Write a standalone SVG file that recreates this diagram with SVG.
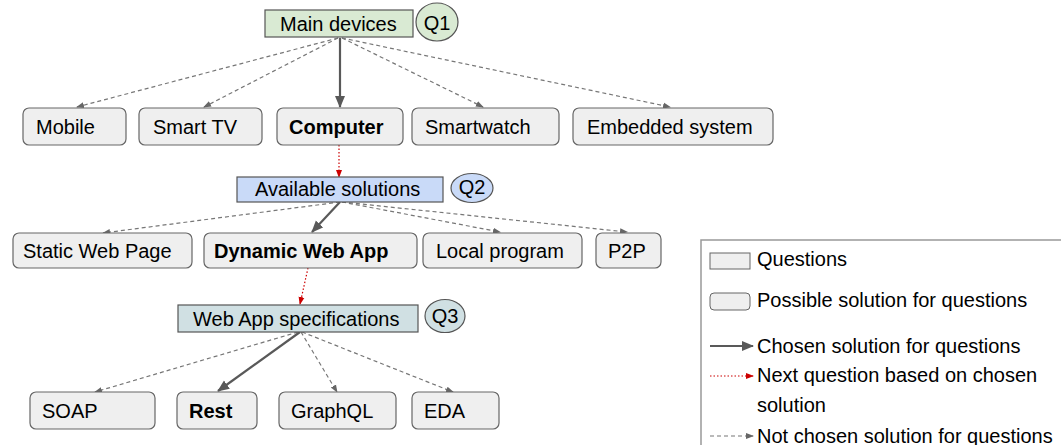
<svg xmlns="http://www.w3.org/2000/svg" width="1061" height="445" viewBox="0 0 1061 445">
<style>
text{font-family:"Liberation Sans",Arial,sans-serif;font-size:20px;fill:#000}
.b{font-weight:bold}
.node{fill:#efefef;stroke:#666;stroke-width:1.2}
.q{stroke:#555;stroke-width:1.2}
.dash{stroke:#777;stroke-width:1.2;stroke-dasharray:4 3;fill:none}
.solid{stroke:#595959;stroke-width:2.2;fill:none}
.red{stroke:#cc0000;stroke-width:1.2;stroke-dasharray:1.5 2;fill:none}
</style>
<defs>
<marker id="ad" markerWidth="8" markerHeight="8" refX="7" refY="4" orient="auto" markerUnits="userSpaceOnUse"><path d="M0,1 L8,4 L0,7 Z" fill="#666"/></marker>
<marker id="as" markerWidth="12" markerHeight="12" refX="11" refY="6" orient="auto" markerUnits="userSpaceOnUse"><path d="M0,1 L12,6 L0,11 Z" fill="#595959"/></marker>
<marker id="ar" markerWidth="8" markerHeight="8" refX="7" refY="4" orient="auto" markerUnits="userSpaceOnUse"><path d="M0,1 L8,4 L0,7 Z" fill="#cc0000"/></marker>
</defs>
<g id="connectors">
<line class="dash" x1="338" y1="38" x2="77" y2="107" marker-end="url(#ad)"/>
<line class="dash" x1="338" y1="38" x2="204" y2="107" marker-end="url(#ad)"/>
<line class="solid" x1="340" y1="38" x2="340" y2="107" marker-end="url(#as)"/>
<line class="dash" x1="342" y1="38" x2="483" y2="107" marker-end="url(#ad)"/>
<line class="dash" x1="342" y1="38" x2="670" y2="107" marker-end="url(#ad)"/>
<line class="red" x1="339" y1="145" x2="339" y2="177" marker-end="url(#ar)"/>
<line class="dash" x1="340" y1="202" x2="103" y2="233" marker-end="url(#ad)"/>
<line class="solid" x1="340" y1="202" x2="312" y2="232" marker-end="url(#as)"/>
<line class="dash" x1="342" y1="202" x2="500" y2="232" marker-end="url(#ad)"/>
<line class="dash" x1="342" y1="202" x2="627" y2="232" marker-end="url(#ad)"/>
<line class="red" x1="308" y1="268" x2="300" y2="304" marker-end="url(#ar)"/>
<line class="dash" x1="298" y1="332" x2="95" y2="392" marker-end="url(#ad)"/>
<line class="solid" x1="300" y1="332" x2="218" y2="391" marker-end="url(#as)"/>
<line class="dash" x1="301" y1="332" x2="337" y2="392" marker-end="url(#ad)"/>
<line class="dash" x1="302" y1="332" x2="453" y2="392" marker-end="url(#ad)"/>
</g>
<g id="q1"><rect class="q" x="265" y="10" width="148" height="27" fill="#d9ead3"/><text x="280" y="31">Main devices</text></g>
<g id="q1-label"><ellipse class="q" cx="437" cy="22" rx="21" ry="19" fill="#d9ead3"/><text x="437" y="30" text-anchor="middle">Q1</text></g>
<g id="mobile"><rect class="node" x="23" y="108" width="103" height="37" rx="6"/><text x="36" y="134">Mobile</text></g>
<g id="smarttv"><rect class="node" x="139" y="108" width="123" height="37" rx="6"/><text x="153" y="134">Smart TV</text></g>
<g id="computer"><rect class="node" x="277" y="108" width="126" height="37" rx="6"/><text class="b" x="289" y="134">Computer</text></g>
<g id="smartwatch"><rect class="node" x="412" y="108" width="147" height="37" rx="6"/><text x="425" y="134">Smartwatch</text></g>
<g id="embedded"><rect class="node" x="573" y="108" width="200" height="37" rx="6"/><text x="587" y="134">Embedded system</text></g>
<g id="q2"><rect class="q" x="237" y="177" width="206" height="25" fill="#c9daf8"/><text x="255" y="196">Available solutions</text></g>
<g id="q2-label"><ellipse class="q" cx="472" cy="188" rx="21" ry="14.5" fill="#c9daf8"/><text x="472" y="194" text-anchor="middle">Q2</text></g>
<g id="static"><rect class="node" x="13" y="233" width="179" height="35" rx="6"/><text x="23" y="258">Static Web Page</text></g>
<g id="dynamic"><rect class="node" x="204" y="233" width="213" height="35" rx="6"/><text class="b" x="214" y="258">Dynamic Web App</text></g>
<g id="local"><rect class="node" x="423" y="233" width="159" height="35" rx="6"/><text x="436" y="258">Local program</text></g>
<g id="p2p"><rect class="node" x="596" y="233" width="65" height="35" rx="6"/><text x="608" y="258">P2P</text></g>
<g id="q3"><rect class="q" x="178" y="305" width="240" height="27" fill="#d0e0e3"/><text x="193" y="326">Web App specifications</text></g>
<g id="q3-label"><ellipse class="q" cx="445" cy="316" rx="20" ry="16.5" fill="#d0e0e3"/><text x="445" y="323" text-anchor="middle">Q3</text></g>
<g id="soap"><rect class="node" x="30" y="392" width="125" height="37" rx="6"/><text x="42" y="418">SOAP</text></g>
<g id="rest"><rect class="node" x="177" y="392" width="80" height="37" rx="6"/><text class="b" x="189" y="418">Rest</text></g>
<g id="graphql"><rect class="node" x="279" y="392" width="117" height="37" rx="6"/><text x="291" y="418">GraphQL</text></g>
<g id="eda"><rect class="node" x="412" y="392" width="87" height="37" rx="6"/><text x="424" y="418">EDA</text></g>
<g id="legend">
<rect x="701" y="240" width="400" height="250" fill="#fff" stroke="#999" stroke-width="1.5"/>
<rect x="710" y="253" width="40" height="16" fill="#efefef" stroke="#666"/>
<text x="757" y="266">Questions</text>
<rect x="710" y="293" width="40" height="17" rx="4" fill="#efefef" stroke="#666"/>
<text x="757" y="307">Possible solution for questions</text>
<line class="solid" x1="710" y1="346" x2="753" y2="346" marker-end="url(#as)"/>
<text x="757" y="353">Chosen solution for questions</text>
<line class="red" x1="710" y1="376" x2="753" y2="376" marker-end="url(#ar)"/>
<text x="757" y="382">Next question based on chosen</text>
<text x="757" y="412">solution</text>
<line class="dash" x1="710" y1="436" x2="753" y2="436" marker-end="url(#ad)"/>
<text x="757" y="443">Not chosen solution for questions</text>
</g>
</svg>
